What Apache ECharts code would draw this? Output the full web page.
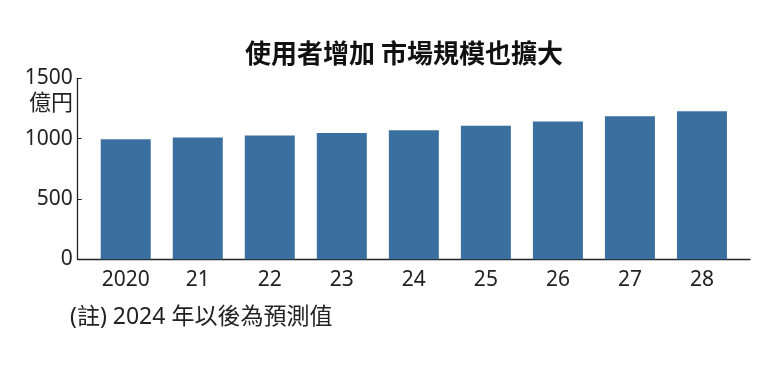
<!DOCTYPE html>
<html>
<head>
<meta charset="utf-8">
<script src="https://cdn.jsdelivr.net/npm/echarts@6/dist/echarts.min.js"></script>
<style>
html,body{margin:0;padding:0;background:#fff;}
#c{width:780px;height:369px;}
</style>
</head>
<body>
<div id="c"></div>
<script>
const title = '使用者增加 市場規模也擴大';
const categories = ['2020', '21', '22', '23', '24', '25', '26', '27', '28'];
const values = [995, 1010, 1027, 1047, 1069, 1106, 1143, 1185, 1226];
const yTicks = [0, 500, 1000, 1500];
const unitLabel = '億円';
const note = '(註) 2024 年以後為預測值';

const narrow = '"Noto Sans", "Noto Sans CJK TC", sans-serif';
const cjk = '"Noto Sans CJK TC", "Noto Sans CJK JP", sans-serif';

const chart = echarts.init(document.getElementById('c'), null, {renderer: 'canvas'});
chart.setOption({
  backgroundColor: '#ffffff',
  animation: false,
  title: {
    text: title,
    left: 399,
    textAlign: 'center',
    top: 35,
    textStyle: {fontFamily: cjk, fontWeight: 'bold', fontSize: 26, color: '#111'}
  },
  grid: {left: 77.7, right: 30, top: 78.3, bottom: 109.7, containLabel: false},
  xAxis: {
    type: 'value',
    min: -0.667,
    max: 8.667,
    axisLine: {show: true, onZero: false, lineStyle: {color: '#222', width: 1.3}},
    axisTick: {show: false},
    splitLine: {show: false},
    axisLabel: {
      customValues: categories.map((c, i) => i),
      formatter: v => categories[Math.round(v)] ?? '',
      fontFamily: narrow,
      fontSize: 21,
      color: '#222',
      margin: 10
    }
  },
  yAxis: {
    type: 'value',
    min: yTicks[0],
    max: yTicks[yTicks.length - 1],
    interval: 500,
    axisLine: {show: true, onZero: false, lineStyle: {color: '#222', width: 1.3}},
    axisTick: {show: true, inside: true, length: 4, lineStyle: {color: '#222'}},
    splitLine: {show: false},
    axisLabel: {fontFamily: narrow, fontSize: 21, color: '#222', margin: 5, padding: [4, 0, 0, 0], formatter: v => String(v)}
  },
  series: [{
    type: 'bar',
    data: values.map((v, i) => [i, v]),
    barWidth: 50,
    itemStyle: {color: '#3b6fa0'}
  }],
  graphic: [
    {
      type: 'text',
      right: 780 - 73,
      top: 91,
      style: {text: unitLabel, font: '22px ' + cjk, fill: '#222'}
    },
    {
      type: 'text',
      left: 70,
      top: 306,
      style: {text: note, font: '23px ' + narrow, fill: '#222'}
    }
  ]
});
</script>
</body>
</html>
